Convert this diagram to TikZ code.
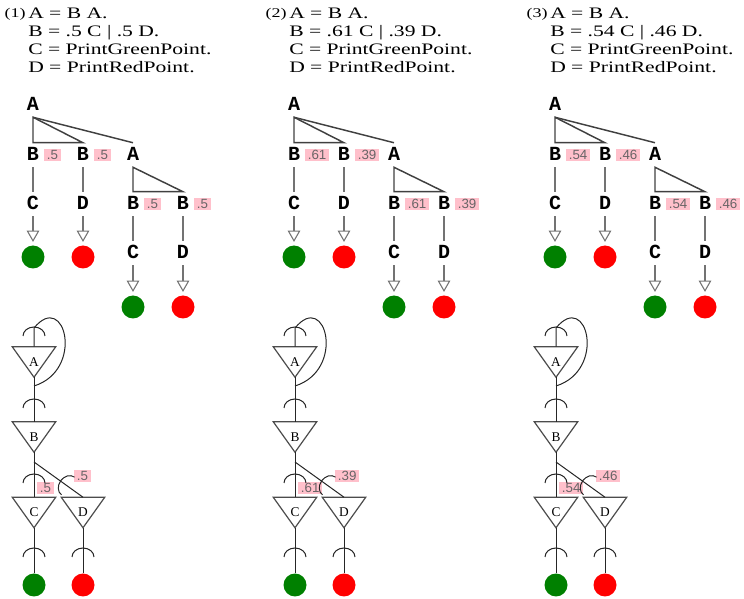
\documentclass[tikz,border=0pt]{standalone}
\usepackage{fontspec}
\setmainfont{Liberation Serif}
\setsansfont{Liberation Sans}
\setmonofont{Liberation Mono}
\newfontfamily\rulefont{Liberation Serif}[FakeStretch=1.35]
\usetikzlibrary{positioning,arrows.meta}
\definecolor{probpink}{RGB}{255,192,203}
\definecolor{probtext}{RGB}{105,100,102}
\definecolor{dotgreen}{RGB}{0,128,0}
\definecolor{dotred}{RGB}{255,0,0}
\tikzset{
  sym/.style={font=\fontsize{15}{15}\ttfamily\bfseries, inner sep=0pt, text height=8.6pt, text depth=0pt, minimum height=18pt},
  prob/.style={font=\fontsize{10}{10}\sffamily, text=probtext, fill=probpink, inner xsep=2pt, inner ysep=1pt, text height=7.2pt, text depth=0pt},
  tree/.style={draw=black!75, line width=1.1pt},
  link/.style={draw=black!55, line width=1.1pt},
  leadsto/.style={draw=black!55, line width=1.1pt, -{Triangle[open, length=8.5pt, width=9.5pt, line width=0.8pt]}, shorten >=2.5pt},
  dot/.style={circle, minimum size=17.25pt, inner sep=0pt},
  gate/.style={minimum width=32.25pt, minimum height=22.5pt, inner sep=0pt, font=\fontsize{10}{10}\selectfont},
  gatebox/.style={draw=black!70, line width=0.9pt},
  wire/.style={draw=black!85, line width=0.75pt},
  socket/.pic={\draw[wire] (-11,0) arc[start angle=180, end angle=360, x radius=11, y radius=9];},
  rule/.style={font=\rulefont\fontsize{12}{13.3}\selectfont, inner sep=0pt}
}
\begin{document}
\begin{tikzpicture}[x=0.75pt, y=-0.75pt]
\useasboundingbox (0,0) rectangle (744,599);
\foreach \n/\dx/\pc/\pd in {1/0/.5/.5, 2/261/.61/.39, 3/522/.54/.46}{
\begin{scope}[shift={(\dx,0)}]
  \node[rule, anchor=base east, font=\rulefont\fontsize{10}{10}\selectfont] (num\n) at (26,18) {(\n)};
  \node[rule, anchor=north west, align=left] (rules\n) at (28,8) {A = B A.\\B = \pc\ C | \pd\ D.\\C = PrintGreenPoint.\\D = PrintRedPoint.};

  \node[sym] (top\n) at (33,105) {A};
  \node[sym] (b\n) at (33,155) {B};
  \node[sym] (bb\n) at (83,155) {B};
  \node[sym] (ab\n) at (133,155) {A};
  \node[prob, right=3.5pt of b\n] (pb\n) {\pc};
  \node[prob, right=3.5pt of bb\n] (pbb\n) {\pd};
  \node[sym] (c\n) at (33,204) {C};
  \node[sym] (d\n) at (83,204) {D};
  \node[sym] (sb\n) at (133,204) {B};
  \node[sym] (sbb\n) at (183,204) {B};
  \node[prob, right=3.5pt of sb\n] (psb\n) {\pc};
  \node[prob, right=3.5pt of sbb\n] (psbb\n) {\pd};
  \node[sym] (sc\n) at (133,253) {C};
  \node[sym] (sd\n) at (183,253) {D};
  \node[dot, fill=dotgreen] (g\n) at (33,257) {};
  \node[dot, fill=dotred] (r\n) at (83,257) {};
  \node[dot, fill=dotgreen] (sg\n) at (133,307) {};
  \node[dot, fill=dotred] (sr\n) at (183,307) {};

  \draw[tree] (top\n.south) -- (b\n.north) -- (bb\n.north) -- cycle;
  \draw[tree] (top\n.south) -- (ab\n.north);
  \draw[tree] (ab\n.south) -- (sb\n.north) -- (sbb\n.north) -- cycle;
  \draw[link] (b\n) -- (c\n);
  \draw[link] (bb\n) -- (d\n);
  \draw[link] (sb\n) -- (sc\n);
  \draw[link] (sbb\n) -- (sd\n);
  \draw[leadsto] (c\n) -- (g\n);
  \draw[leadsto] (d\n) -- (r\n);
  \draw[leadsto] (sc\n) -- (sg\n);
  \draw[leadsto] (sd\n) -- (sr\n);

  \node[gate] (ga\n) at (34,362) {A};
  \node[gate] (gb\n) at (34,437) {B};
  \node[gate] (gc\n) at (34,512.5) {C};
  \node[gate] (gd\n) at (83,512.5) {D};
  \foreach \g in {ga,gb,gc,gd}
    \draw[gatebox] (\g\n.north west) -- (\g\n.north east) -- (\g\n.south) -- cycle;
  \node[dot, fill=dotgreen] (og\n) at (34,585) {};
  \node[dot, fill=dotred] (or\n) at (83,585) {};
  \node[prob, anchor=west] (pc\n) at (37,488) {\pc};
  \node[prob, anchor=west] (pd\n) at (74,476) {\pd};

  \coordinate (back\n) at (34,386);
  \coordinate (entry\n) at (34,328);
  \coordinate (fork\n) at (34,462);
  \draw[wire] (back\n) .. controls +(51,-16) and +(31,-38) .. (entry\n) -- (ga\n);
  \draw[wire] (ga\n) -- (gb\n);
  \draw[wire] (gb\n) -- (gc\n);
  \draw[wire] (fork\n) -- (gd\n.north);
  \draw[wire] (gc\n) -- (og\n);
  \draw[wire] (gd\n) -- (or\n);
  \pic at (34,336) {socket};
  \pic at (34,408) {socket};
  \pic at (34,483) {socket};
  \pic[rotate=54] at (68,486) {socket};
  \pic at (34,557) {socket};
  \pic at (83,557) {socket};
\end{scope}}
\end{tikzpicture}
\end{document}
